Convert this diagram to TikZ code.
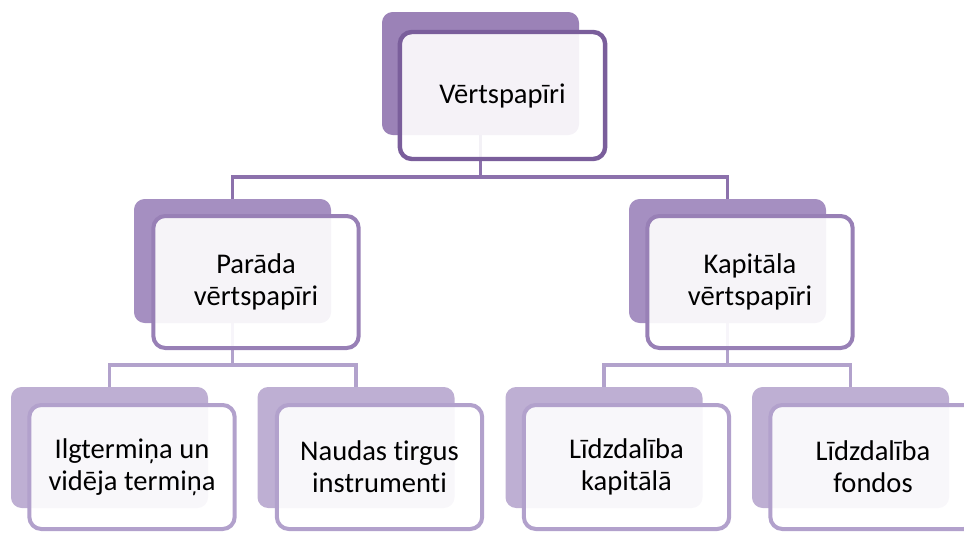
\documentclass[tikz,border=0pt]{standalone}
\usepackage{fontspec}
\setmainfont{Carlito}[Ligatures=NoCommon]
\definecolor{backA}{RGB}{155,130,183}
\definecolor{edgeA}{RGB}{122,94,155}
\definecolor{linkA}{RGB}{140,113,172}
\definecolor{backB}{RGB}{165,143,193}
\definecolor{edgeB}{RGB}{152,128,182}
\definecolor{linkB}{RGB}{178,162,204}
\definecolor{backC}{RGB}{190,175,211}
\definecolor{edgeC}{RGB}{178,161,204}
\tikzset{
  back/.style={rounded corners=8pt, inner sep=0pt, outer sep=0pt,
               minimum width=147.75pt, fill=#1},
  frame/.style={rounded corners=9pt, inner sep=0pt, outer sep=0pt,
                minimum width=154pt, draw=#1, line width=3pt,
                fill=white, fill opacity=0.9, text opacity=1,
                align=center, font=\fontsize{21.4pt}{24pt}\selectfont},
  link/.style={line width=2.8pt, draw=#1},
  lvA/.style={minimum height=92.25pt},
  lvB/.style={minimum height=93pt},
  lvC/.style={minimum height=90.75pt},
  frA/.style={minimum height=95.25pt},
  frB/.style={minimum height=99pt},
  frC/.style={minimum height=93pt},
}
\begin{document}
\begin{tikzpicture}[x=0.75pt, y=-0.75pt]
\useasboundingbox (0,0) rectangle (964,533);
\clip (0,0) rectangle (964,533);

% junction points of the connector buses
\coordinate (busA) at (480.5,177);
\coordinate (busL) at (232.5,365);
\coordinate (busR) at (727.5,365);

% anchors for the connectors (plates drawn afterwards)
\path[back=none, lvA] node (top) at (480.5,73.5) {}
  node[lvB] (debt) at (232.5,261) {}
  node[lvB] (equity) at (727.5,261) {}
  node[lvC] (long) at (109.5,447.5) {}
  node[lvC] (money) at (356,447.5) {}
  node[lvC] (capital) at (604,447.5) {}
  node[lvC] (funds) at (850.5,447.5) {};

% connectors
\draw[link=linkA] (top.south) -- (busA);
\draw[link=linkA] (debt.north) |- (busA) -| (equity.north);
\draw[link=linkB] (debt.south) -- (busL);
\draw[link=linkB] (long.north) |- (busL) -| (money.north);
\draw[link=linkB] (equity.south) -- (busR);
\draw[link=linkB] (capital.north) |- (busR) -| (funds.north);

% back plates
\node[back=backA, lvA] at (top) {};
\node[back=backB, lvB] at (debt) {};
\node[back=backB, lvB] at (equity) {};
\node[back=backC, lvC] at (long) {};
\node[back=backC, lvC] at (money) {};
\node[back=backC, lvC] at (capital) {};
\node[back=backC, lvC] at (funds) {};

% framed text boxes
\node[frame=edgeA, frA, line width=3.3pt] (ftop) at (502.5,95.5) {Vērtspapīri};
\node[frame=edgeB, frB] (fdebt) at (256,282) {Parāda\\vērtspapīri};
\node[frame=edgeB, frB] (fequity) at (750,282) {Kapitāla\\vērtspapīri};
\node[frame=edgeC, frC] (flong) at (132,467) {Ilgtermiņa un\\vidēja termiņa};
\node[frame=edgeC, frC] (fmoney) at (379.5,467) {Naudas tirgus\\instrumenti};
\node[frame=edgeC, frC] (fcapital) at (626.5,467) {Līdzdalība\\kapitālā};
\node[frame=edgeC, frC] (ffunds) at (873,467) {Līdzdalība\\fondos};
\end{tikzpicture}
\end{document}
